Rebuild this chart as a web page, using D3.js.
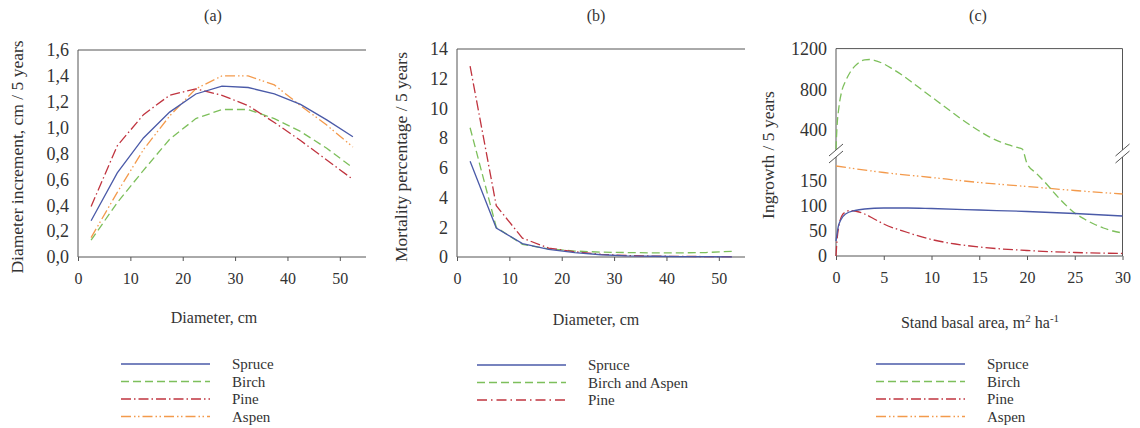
<!DOCTYPE html>
<html>
<head>
<meta charset="utf-8">
<script src="https://cdn.jsdelivr.net/npm/d3@7"></script>
<style>
  html, body { margin: 0; padding: 0; background: #fff; }
  svg { display: block; font-family: "Liberation Serif", "Times New Roman", serif; }
</style>
</head>
<body>
<svg id="chart" width="1140" height="428"></svg>
<script>
// ---- Data -------------------------------------------------------------
// (a) diameter increment by diameter class
const diamClasses = [2.5, 7.5, 12.5, 17.5, 22.5, 27.5, 32.5, 37.5, 42.5, 47.5, 52.5];
const incSpruce = [0.28, 0.65, 0.92, 1.12, 1.26, 1.32, 1.31, 1.26, 1.18, 1.06, 0.93];
const incBirch  = [0.13, 0.42, 0.67, 0.91, 1.07, 1.14, 1.14, 1.07, 0.97, 0.84, 0.69];
const incPine   = [0.39, 0.86, 1.10, 1.25, 1.30, 1.25, 1.17, 1.04, 0.90, 0.75, 0.60];
const incAspen  = [0.15, 0.50, 0.83, 1.09, 1.30, 1.40, 1.40, 1.33, 1.17, 1.02, 0.85];

// (b) mortality percentage by diameter class
const mortSpruce      = [6.45, 1.95, 0.90, 0.52, 0.30, 0.15, 0.08, 0.05, 0.03, 0.02, 0.01];
const mortBirchAspen  = [8.70, 2.00, 0.85, 0.55, 0.40, 0.33, 0.30, 0.28, 0.28, 0.30, 0.38];
const mortPine        = [12.85, 3.45, 1.27, 0.60, 0.35, 0.18, 0.10, 0.06, 0.04, 0.03, 0.02];

// (c) ingrowth by stand basal area
const baSpruce = [0, 0.25, 0.5, 1, 2, 3, 5, 7.5, 10, 15, 20, 25, 30];
const ingSpruce = [30, 60, 72, 84, 91, 94, 96, 96, 95, 92, 89, 85, 80];
const baPine = [0, 0.1, 0.3, 0.6, 1, 1.5, 2, 3, 4, 5, 7.5, 10, 12.5, 15, 20, 25, 30];
const ingPine = [0, 30, 60, 80, 88, 91, 90, 84, 74, 64, 47, 33, 24, 18, 11, 7, 5];
const baAspen = [0, 5, 10, 15, 20, 25, 30];
const ingAspen = [180, 167, 157, 147, 139, 131, 124];
const baBirch = [0, 0.1, 0.3, 0.6, 1, 1.5, 2, 2.5, 3, 3.5, 4, 5, 6, 7, 8, 9, 10, 11, 12, 13, 14, 15, 16, 17, 18, 19, 19.5,
                 20, 21, 22, 23, 24, 25, 26, 27, 28, 29, 30];
const ingBirch = [210, 420, 620, 780, 880, 970, 1030, 1070, 1090, 1093, 1085, 1050, 995, 935, 865, 795, 725, 655, 585, 515, 450, 390, 335, 290, 255, 228, 212,
                  185, 165, 145, 123, 103, 86, 74, 64, 56, 50, 46];

// tick values
const ticksA_y = [0, 0.2, 0.4, 0.6, 0.8, 1.0, 1.2, 1.4, 1.6];
const ticksA_x = [0, 10, 20, 30, 40, 50];
const ticksB_y = [0, 2, 4, 6, 8, 10, 12, 14];
const ticksB_x = [0, 10, 20, 30, 40, 50];
const ticksC_yLow = [0, 50, 100, 150];
const ticksC_yHigh = [400, 800, 1200];
const ticksC_x = [0, 5, 10, 15, 20, 25, 30];

// ---- Styles -----------------------------------------------------------
const style = {
  spruce: { color: "#4a5aa8", dash: null },
  birch:  { color: "#7dbf5b", dash: "8,4" },
  pine:   { color: "#c0343f", dash: "10,3,1.5,3" },
  aspen:  { color: "#f39a4c", dash: "10,3,1.5,2.5,1.5,3" }
};
const axisColor = "#555";
const textColor = "#333";
const yTickSize = 18;
const xTickSize = 16;

const svg = d3.select("#chart");
const commaLocale = d3.formatLocale({ decimal: ",", thousands: " ", grouping: [3], currency: ["", ""] });
const fmtComma = commaLocale.format(".1f");

function styleAxis(size) {
  return g => {
    g.select(".domain").remove();
    g.selectAll(".tick line").attr("stroke", axisColor);
    g.selectAll(".tick text").attr("font-size", size).attr("fill", textColor)
      .attr("font-family", "Liberation Serif, serif");
  };
}

function drawLine(g, xs, ys, x, y, st, curve) {
  const pts = xs.map((d, i) => [d, ys[i]]);
  g.append("path")
    .datum(pts)
    .attr("fill", "none")
    .attr("stroke", st.color)
    .attr("stroke-width", 1.3)
    .attr("stroke-dasharray", st.dash)
    .attr("d", d3.line().x(d => x(d[0])).y(d => y(d[1])).curve(curve || d3.curveLinear));
}

function legend(x0, y0, items) {
  const g = svg.append("g");
  items.forEach((it, i) => {
    const yy = y0 + i * 17.5;
    g.append("line").attr("x1", x0).attr("x2", x0 + 89).attr("y1", yy).attr("y2", yy)
      .attr("stroke", it.st.color).attr("stroke-width", 1.3).attr("stroke-dasharray", it.st.dash);
    g.append("text").attr("x", x0 + 111).attr("y", yy + 5).attr("font-size", 15)
      .attr("fill", textColor).text(it.label);
  });
}

function title(x, y, t) {
  svg.append("text").attr("x", x).attr("y", y).attr("text-anchor", "middle")
    .attr("font-size", 16).attr("fill", textColor).text(t);
}

function yTitle(x, y, t) {
  svg.append("text").attr("transform", `translate(${x},${y}) rotate(-90)`)
    .attr("text-anchor", "middle").attr("font-size", 17.5).attr("fill", textColor).text(t);
}

function frameAxes(y0, y1, xl, xr) {
  // left axis, bottom axis and top border
  svg.append("line").attr("x1", xl).attr("x2", xl).attr("y1", y0).attr("y2", y1).attr("stroke", axisColor);
  svg.append("line").attr("x1", xl).attr("x2", xr).attr("y1", y0).attr("y2", y0).attr("stroke", axisColor);
  svg.append("line").attr("x1", xl).attr("x2", xr).attr("y1", y1).attr("y2", y1).attr("stroke", axisColor);
}

// ---- Panel (a) --------------------------------------------------------
{
  const x = d3.scaleLinear().domain([0, 55]).range([78, 366]);
  const y = d3.scaleLinear().domain([0, 1.6]).range([257, 50]);
  frameAxes(y(0), y(1.6), x(0), x(55));
  svg.append("g").attr("transform", `translate(0,${y(0)})`)
    .call(d3.axisBottom(x).tickValues(ticksA_x).tickSize(4).tickPadding(12).tickFormat(d3.format("d")))
    .call(styleAxis(xTickSize));
  svg.append("g").attr("transform", `translate(${x(0)},0)`)
    .call(d3.axisLeft(y).tickValues(ticksA_y).tickSize(0).tickPadding(9).tickFormat(fmtComma))
    .call(styleAxis(yTickSize));
  const g = svg.append("g");
  drawLine(g, diamClasses, incBirch, x, y, style.birch);
  drawLine(g, diamClasses, incAspen, x, y, style.aspen);
  drawLine(g, diamClasses, incPine, x, y, style.pine);
  drawLine(g, diamClasses, incSpruce, x, y, style.spruce);
  title(213, 21, "(a)");
  yTitle(23, 157, "Diameter increment, cm / 5 years");
  svg.append("text").attr("x", 214).attr("y", 323).attr("text-anchor", "middle")
    .attr("font-size", 16).attr("fill", textColor).text("Diameter, cm");
  legend(121, 364, [
    { label: "Spruce", st: style.spruce },
    { label: "Birch", st: style.birch },
    { label: "Pine", st: style.pine },
    { label: "Aspen", st: style.aspen }
  ]);
}

// ---- Panel (b) --------------------------------------------------------
{
  const x = d3.scaleLinear().domain([0, 55]).range([457, 745]);
  const y = d3.scaleLinear().domain([0, 14]).range([257, 49]);
  frameAxes(y(0), y(14), x(0), x(55));
  svg.append("g").attr("transform", `translate(0,${y(0)})`)
    .call(d3.axisBottom(x).tickValues(ticksB_x).tickSize(4).tickPadding(12).tickFormat(d3.format("d")))
    .call(styleAxis(xTickSize));
  svg.append("g").attr("transform", `translate(${x(0)},0)`)
    .call(d3.axisLeft(y).tickValues(ticksB_y).tickSize(0).tickPadding(9).tickFormat(d3.format("d")))
    .call(styleAxis(yTickSize));
  const g = svg.append("g");
  drawLine(g, diamClasses, mortBirchAspen, x, y, style.birch);
  drawLine(g, diamClasses, mortPine, x, y, style.pine);
  drawLine(g, diamClasses, mortSpruce, x, y, style.spruce);
  title(596, 21, "(b)");
  yTitle(407, 157, "Mortality percentage / 5 years");
  svg.append("text").attr("x", 596).attr("y", 325).attr("text-anchor", "middle")
    .attr("font-size", 16).attr("fill", textColor).text("Diameter, cm");
  legend(477, 365, [
    { label: "Spruce", st: style.spruce },
    { label: "Birch and Aspen", st: style.birch },
    { label: "Pine", st: { color: style.pine.color, dash: "10,4,1.5,4" } }
  ]);
}

// ---- Panel (c) --------------------------------------------------------
{
  const x = d3.scaleLinear().domain([0, 30]).range([836, 1122.5]);
  const yLow = d3.scaleLinear().domain([0, 200]).range([256, 156]);
  const yHigh = d3.scaleLinear().domain([200, 1200]).range([150.3, 48.6]);
  const y = v => (v <= 200 ? yLow(v) : yHigh(v));
  const xl = x(0), xr = x(30);
  // axes split around the break
  [xl, xr].forEach(ax => {
    svg.append("line").attr("x1", ax).attr("x2", ax).attr("y1", yLow(0)).attr("y2", 157).attr("stroke", axisColor);
    svg.append("line").attr("x1", ax).attr("x2", ax).attr("y1", 150).attr("y2", yHigh(1200)).attr("stroke", axisColor);
    [150, 157].forEach(cy => {
      svg.append("line").attr("x1", ax - 7).attr("y1", cy + 6).attr("x2", ax + 7).attr("y2", cy - 6)
        .attr("stroke", axisColor).attr("stroke-width", 1);
    });
  });
  svg.append("line").attr("x1", xl).attr("x2", xr).attr("y1", yLow(0)).attr("y2", yLow(0)).attr("stroke", axisColor);
  svg.append("line").attr("x1", xl).attr("x2", xr).attr("y1", yHigh(1200)).attr("y2", yHigh(1200)).attr("stroke", axisColor);
  svg.append("g").attr("transform", `translate(0,${yLow(0)})`)
    .call(d3.axisBottom(x).tickValues(ticksC_x).tickSize(4).tickPadding(12).tickFormat(d3.format("d")))
    .call(styleAxis(xTickSize));
  svg.append("g").attr("transform", `translate(${xl},0)`)
    .call(d3.axisLeft(yLow).tickValues(ticksC_yLow).tickSize(0).tickPadding(9).tickFormat(d3.format("d")))
    .call(styleAxis(yTickSize));
  svg.append("g").attr("transform", `translate(${xl},0)`)
    .call(d3.axisLeft(yHigh).tickValues(ticksC_yHigh).tickSize(0).tickPadding(9).tickFormat(d3.format("d")))
    .call(styleAxis(yTickSize));
  const g = svg.append("g");
  drawLine(g, baAspen, ingAspen, x, y, style.aspen, d3.curveMonotoneX);
  drawLine(g, baBirch, ingBirch, x, y, style.birch, d3.curveMonotoneX);
  drawLine(g, baPine, ingPine, x, y, style.pine, d3.curveMonotoneX);
  drawLine(g, baSpruce, ingSpruce, x, y, style.spruce, d3.curveMonotoneX);
  title(978, 21, "(c)");
  yTitle(774, 155, "Ingrowth / 5 years");
  const xt = svg.append("text").attr("x", 980).attr("y", 328).attr("text-anchor", "middle")
    .attr("font-size", 16).attr("fill", textColor);
  xt.append("tspan").text("Stand basal area, m");
  xt.append("tspan").attr("dy", -6).attr("font-size", 11).text("2");
  xt.append("tspan").attr("dy", 6).text(" ha");
  xt.append("tspan").attr("dy", -6).attr("font-size", 11).text("-1");
  legend(876, 364, [
    { label: "Spruce", st: style.spruce },
    { label: "Birch", st: style.birch },
    { label: "Pine", st: style.pine },
    { label: "Aspen", st: style.aspen }
  ]);
}
</script>
</body>
</html>
